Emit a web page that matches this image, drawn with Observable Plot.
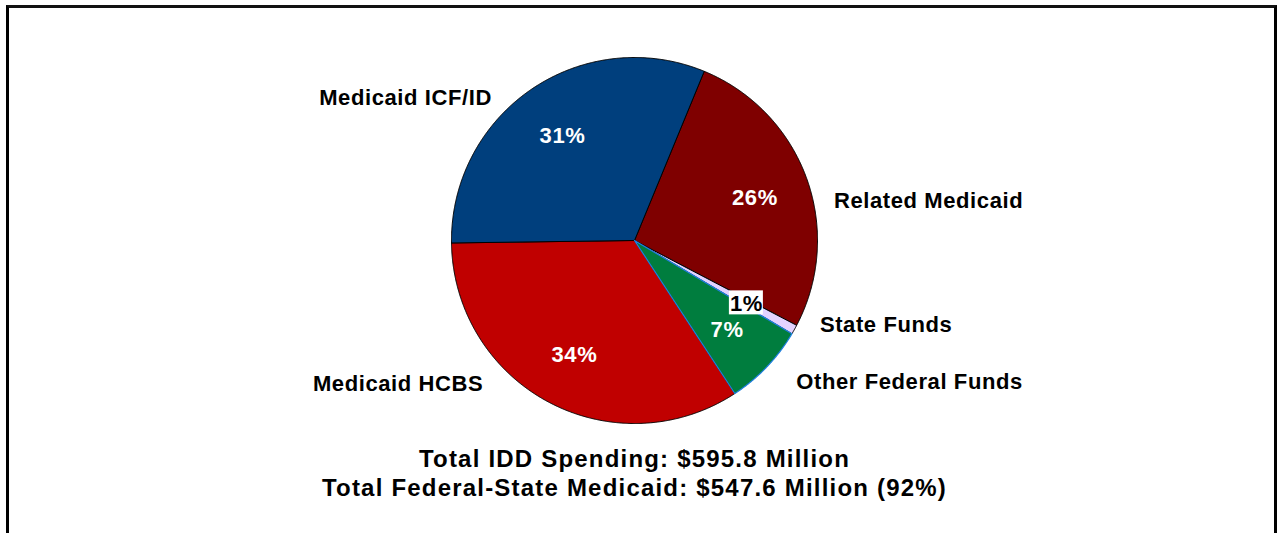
<!DOCTYPE html>
<html>
<head>
<meta charset="utf-8">
<script src="https://cdn.jsdelivr.net/npm/d3@7"></script>
<script src="https://cdn.jsdelivr.net/npm/@observablehq/plot@0.6"></script>
<style>
  html, body { margin: 0; padding: 0; background: #fff; overflow: hidden; }
  #frame { position: absolute; left: 6px; top: 5px; width: 1265px; height: 560px;
           border-left: 3px solid #000; border-top: 3px solid #000; border-right: 3px solid #000;
           border-top-color: #111; box-sizing: content-box; }
  #chart { position: absolute; left: 0; top: 0; }
  #chart svg text { font-family: "Liberation Sans", Arial, sans-serif; font-weight: bold; }
</style>
</head>
<body>
<div id="frame"></div>
<div id="chart"></div>
<script>
// ---- data ----
const categories = ["Related Medicaid", "State Funds", "Other Federal Funds", "Medicaid HCBS", "Medicaid ICF/ID"];
const spending = [157.6, 5.0, 43.2, 202.7, 187.3]; // $ millions
const summaryLines = [
  "Total IDD Spending: $595.8 Million",
  "Total Federal-State Medicaid: $547.6 Million (92%)"
];

// ---- styles / layout ----
const sliceColors = ["#7F0000", "#E3D3FF", "#007D3E", "#C00000", "#003F7D"];
const sliceEdges  = ["#000000", "#000000", "#1F7FE0", "#000000", "#000000"];
const startDeg = 22.4;
// outer category label anchors (chart units, baseline)
const outerLabelPos = {
  "Related Medicaid":    [1.607, 0.177],
  "State Funds":         [1.375, -0.501],
  "Other Federal Funds": [1.503, -0.810],
  "Medicaid HCBS":       [-1.292, -0.825],
  "Medicaid ICF/ID":     [-1.251, 0.738]
};
const summaryOffsets = [43, 72];

const total = d3.sum(spending);
const rows = categories.map((name, i) => ({name, value: spending[i], color: sliceColors[i], edge: sliceEdges[i], order: i}));
const a0 = startDeg * Math.PI / 180;
const arcs = d3.pie().value(d => d.value).sort(null).startAngle(a0).endAngle(a0 + 2 * Math.PI)(rows);

// polygon vertices for each slice (unit radius)
const pts = [];
for (const a of arcs) {
  const n = Math.max(4, Math.ceil((a.endAngle - a.startAngle) / 0.005));
  pts.push({name: a.data.name, x: 0, y: 0, color: a.data.color, edge: a.data.edge});
  for (let k = 0; k <= n; k++) {
    const t = a.startAngle + (a.endAngle - a.startAngle) * k / n;
    pts.push({name: a.data.name, x: Math.sin(t), y: Math.cos(t), color: a.data.color, edge: a.data.edge});
  }
  pts.push({name: a.data.name, x: 0, y: 0, color: a.data.color, edge: a.data.edge});
}
const blackPts = pts.filter(p => p.edge === "#000000");
const bluePts = pts.filter(p => p.edge !== "#000000");

const pctLabels = arcs.map(a => {
  const m = (a.startAngle + a.endAngle) / 2;
  const pct = a.data.value / total * 100;
  return {name: a.data.name, x: 0.70 * Math.sin(m), y: 0.70 * Math.cos(m),
          text: Math.round(pct) + "%", small: pct < 2};
});
const outerLabels = categories.map(name => ({name, x: outerLabelPos[name][0], y: outerLabelPos[name][1]}));

const chart = Plot.plot({
  width: 1277,
  height: 533,
  marginLeft: 451,
  marginRight: 460,
  marginTop: 57,
  marginBottom: 110,
  x: {domain: [-1, 1], axis: null},
  y: {domain: [-1, 1], axis: null},
  style: {background: "transparent", overflow: "visible"},
  marks: [
    Plot.line(blackPts, {x: "x", y: "y", z: "name", fill: "color", stroke: "edge", strokeWidth: 1, curve: "linear-closed"}),
    Plot.line(bluePts, {x: "x", y: "y", z: "name", fill: "color", stroke: "edge", strokeWidth: 1.2, curve: "linear-closed"}),
    Plot.rect(pctLabels.filter(d => d.small), {x1: "x", x2: "x", y1: "y", y2: "y",
      insetLeft: -17, insetRight: -17, insetTop: -12, insetBottom: -12, fill: "white"}),
    Plot.text(pctLabels, {x: "x", y: "y", text: "text", fill: d => d.small ? "black" : "white",
      fontSize: 22, textAnchor: "middle", lineAnchor: "middle", dy: 1, className: "lbl"}),
    Plot.text(outerLabels, {x: "x", y: "y", text: "name", fill: "black", fontSize: 22,
      textAnchor: "middle", lineAnchor: "bottom", className: "lbl"}),
    ...summaryLines.map((line, i) => Plot.text([line], {text: d => d, frameAnchor: "bottom", fill: "black",
      fontSize: 24, textAnchor: "middle", lineAnchor: "bottom", dy: summaryOffsets[i], className: "sum"}))
  ]
});
document.getElementById("chart").appendChild(chart);
chart.querySelectorAll(".lbl text").forEach(t => t.style.letterSpacing = "0.6px");
chart.querySelectorAll(".sum text").forEach(t => t.style.letterSpacing = "1.2px");
</script>
</body>
</html>
